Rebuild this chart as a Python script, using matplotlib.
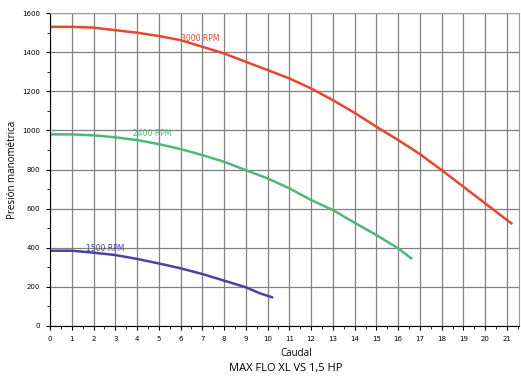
import matplotlib.pyplot as plt
from matplotlib.ticker import MultipleLocator

# curvas
q_3000 = [0, 1, 2, 3, 4, 5, 6, 7, 8, 9, 10, 11, 12, 13, 14, 15, 16, 17, 18, 19, 20, 21, 21.2]
h_3000 = [1530, 1530, 1526, 1513, 1500, 1483, 1462, 1428, 1394, 1351, 1309, 1266, 1215, 1155,
          1090, 1019, 951, 879, 797, 712, 627, 542, 525]

q_2400 = [0, 1, 2, 3, 4, 5, 6, 7, 8, 9, 10, 11, 12, 13, 14, 15, 16, 16.6]
h_2400 = [980, 980, 975, 965, 951, 930, 905, 874, 840, 797, 755, 704, 644, 593, 528, 465, 397, 346]

q_1500 = [0, 1, 2, 3, 4, 5, 6, 7, 8, 9, 9.65, 10.2]
h_1500 = [385, 385, 375, 363, 343, 320, 295, 266, 232, 198, 167, 147]

x_ticks = list(range(0, 22))
y_ticks = list(range(0, 1601, 200))

fig = plt.figure(figsize=(5.21, 3.76), dpi=100)
ax = fig.add_axes([0.096, 0.133, 0.9, 0.832])

ax.plot(q_3000, h_3000, color='#e8472e', lw=1.8)
ax.plot(q_2400, h_2400, color='#4fb877', lw=1.8)
ax.plot(q_1500, h_1500, color='#4b43a3', lw=1.8)

ax.text(6.0, 1472, '3000 RPM', color='#e8472e', fontsize=5.5, va='center')
ax.text(3.8, 985, '2400 RPM', color='#4fb877', fontsize=5.5, va='center')
ax.text(1.65, 395, '1500 RPM', color='#4b43a3', fontsize=5.5, va='center')

ax.set_xlim(0, 21.55)
ax.set_ylim(0, 1600)
ax.set_xticks(x_ticks)
ax.set_yticks(y_ticks)
ax.xaxis.set_minor_locator(MultipleLocator(0.5))
ax.yaxis.set_minor_locator(MultipleLocator(100))
ax.tick_params(labelsize=5, length=3, width=0.8, pad=4)
ax.tick_params(which='minor', length=2, width=0.6)
ax.grid(True, color='#808080', lw=0.9)
for s in ['top', 'right']:
    ax.spines[s].set_color('#999999')

# textos en Open Sans como en el original
ax.set_ylabel('Presión manométrica', fontsize=7, labelpad=3, family='Open Sans')
fig.text(0.568, 0.052, 'Caudal', fontsize=7, ha='center', family='Open Sans')
fig.text(0.548, 0.013, 'MAX FLO XL VS 1,5 HP', fontsize=8, ha='center', family='Open Sans')

fig.savefig('out.png', dpi=100)
